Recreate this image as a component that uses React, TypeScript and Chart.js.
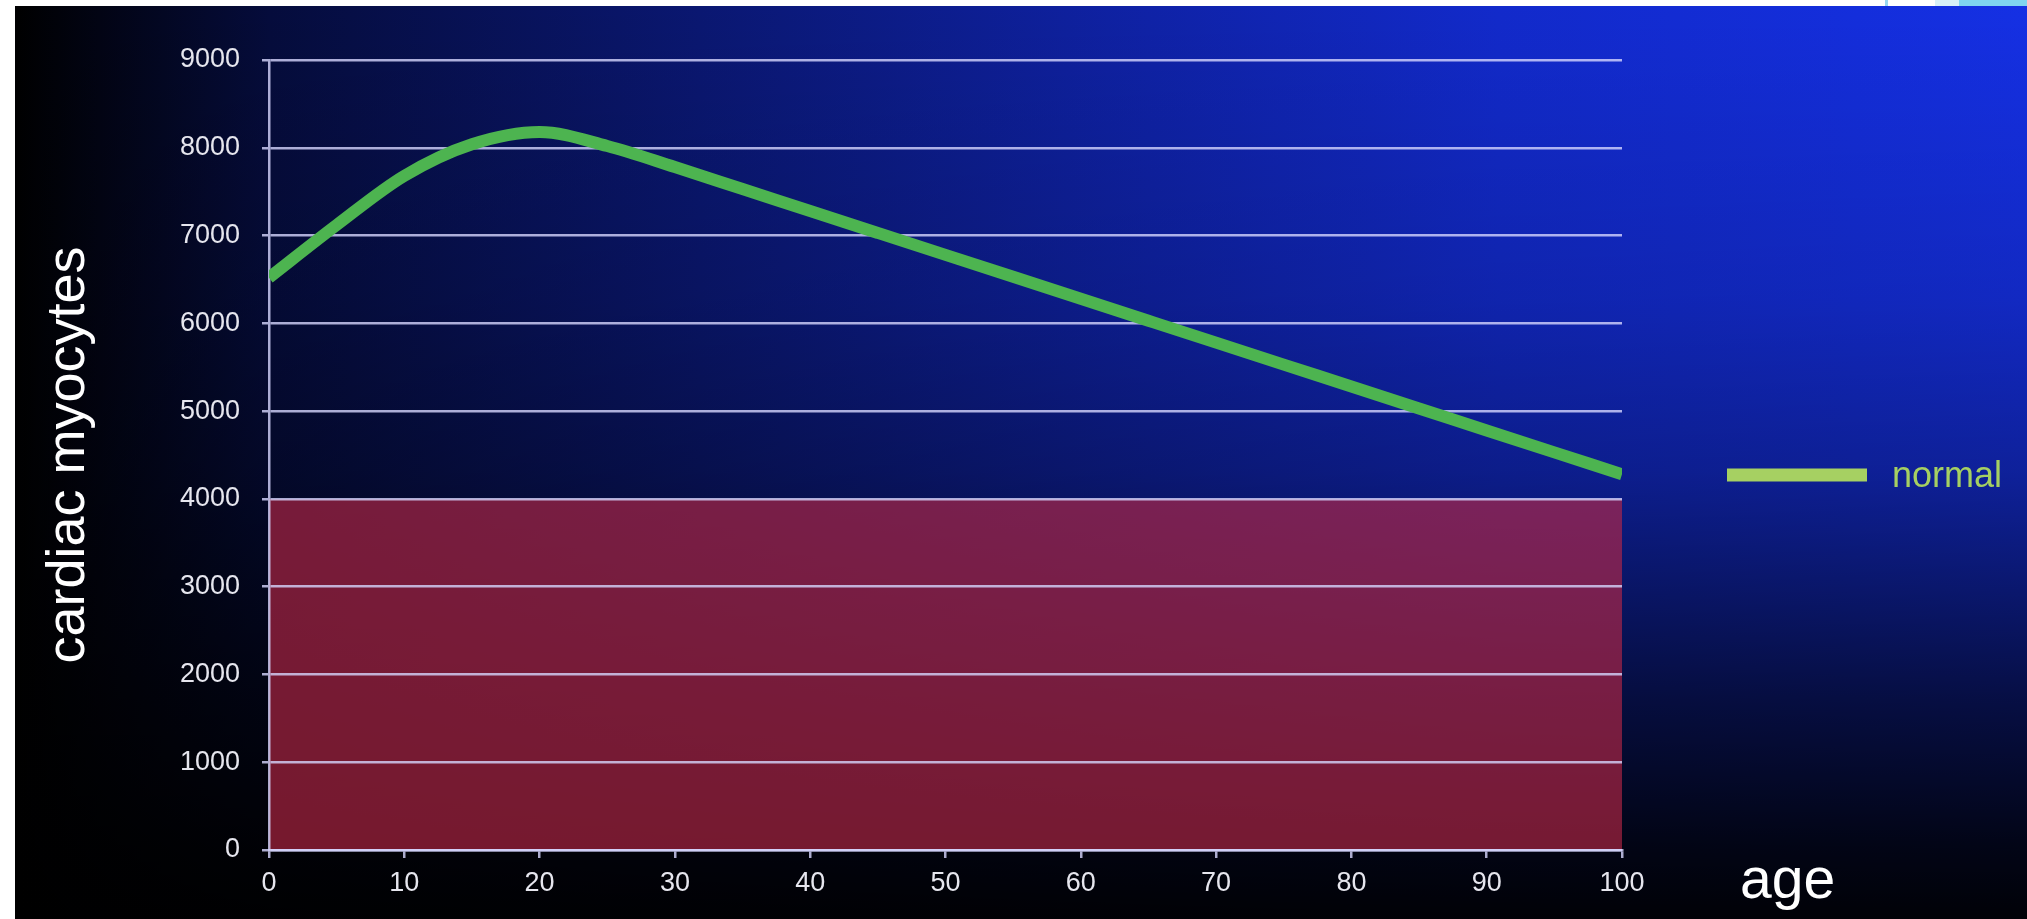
import React, { useEffect, useRef } from 'react';
import { Chart, registerables } from 'chart.js';

Chart.register(...registerables);

// Cardiac myocyte count by age (normal course), sampled every 5 years
const AGES = [0, 5, 10, 15, 20, 25, 30, 35, 40, 45, 50, 55, 60, 65, 70, 75, 80, 85, 90, 95, 100];
const NORMAL_MYOCYTES = [
  6520, 7120, 7680, 8040, 8180, 8020, 7780, 7530, 7280, 7030, 6780,
  6530, 6280, 6030, 5780, 5530, 5280, 5030, 4780, 4530, 4280,
];

// Critical zone: below this many myocytes
const CRITICAL_AGES = [0, 100];
const CRITICAL_LEVEL = [4000, 4000];

const X_TICKS = [0, 10, 20, 30, 40, 50, 60, 70, 80, 90, 100];
const Y_TICKS = [0, 1000, 2000, 3000, 4000, 5000, 6000, 7000, 8000, 9000];

const SERIES_LABEL = 'normal';
const X_TITLE = 'age';
const Y_TITLE = 'cardiac myocytes';

const FONT = '"Liberation Sans", Arial, Helvetica, sans-serif';
const LINE_GREEN = '#4db450';
const LEGEND_GREEN = '#a6d062';
const GRID = 'rgba(215,215,255,0.8)';
const TICK_TEXT = '#e6e6ee';

const CANVAS_W = 2012;
const CANVAS_H = 913;

// Draws the "age" caption to the right of the x axis and the series key
const sideLabels = {
  id: 'sideLabels',
  afterDraw(chart: any) {
    const { ctx, chartArea } = chart;
    const ds = chart.data.datasets[0];
    ctx.save();
    ctx.textAlign = 'left';
    ctx.textBaseline = 'alphabetic';
    ctx.fillStyle = '#ffffff';
    ctx.font = `57px ${FONT}`;
    ctx.fillText(X_TITLE, chartArea.right + 118, chartArea.bottom + 48);

    const keyY = chartArea.top + 415;
    ctx.fillStyle = LEGEND_GREEN;
    ctx.fillRect(chartArea.right + 105, keyY - 6.5, 140, 13);
    ctx.font = `36px ${FONT}`;
    ctx.fillText(ds.label, chartArea.right + 270, keyY + 12);
    ctx.restore();
  },
};

export default function App() {
  const canvasRef = useRef<HTMLCanvasElement | null>(null);

  useEffect(() => {
    if (!canvasRef.current) return;
    Chart.defaults.font.family = FONT;

    const chart = new Chart(canvasRef.current, {
      type: 'line',
      data: {
        datasets: [
          {
            label: SERIES_LABEL,
            data: AGES.map((a, i) => ({ x: a, y: NORMAL_MYOCYTES[i] })),
            borderColor: LINE_GREEN,
            borderWidth: 12,
            pointRadius: 0,
            fill: false,
            cubicInterpolationMode: 'monotone',
            clip: 0,
          },
          {
            label: 'critical',
            data: CRITICAL_AGES.map((a, i) => ({ x: a, y: CRITICAL_LEVEL[i] })),
            borderWidth: 0,
            borderColor: 'rgba(0,0,0,0)',
            backgroundColor: 'rgba(187,40,69,0.63)',
            pointRadius: 0,
            fill: 'origin',
            clip: 0,
          },
        ],
      },
      options: {
        responsive: false,
        animation: false,
        events: [],
        layout: { padding: { top: 54, right: 405, bottom: 0, left: 0 } },
        plugins: {
          legend: { display: false },
          tooltip: { enabled: false },
          filler: { drawTime: 'beforeDraw' },
        },
        scales: {
          x: {
            type: 'linear',
            min: 0,
            max: 100,
            afterBuildTicks: (s: any) => {
              s.ticks = X_TICKS.map((v) => ({ value: v }));
            },
            afterFit: (s: any) => {
              s.height = 69;
            },
            ticks: {
              color: TICK_TEXT,
              font: { size: 27 },
              padding: 9,
              maxRotation: 0,
              autoSkip: false,
              callback: (v: any) => String(v),
            },
            grid: {
              drawOnChartArea: false,
              drawTicks: true,
              tickLength: 8,
              color: GRID,
              lineWidth: 2.5,
            },
            border: { display: true, color: GRID, width: 2.5 },
          },
          y: {
            type: 'linear',
            min: 0,
            max: 9000,
            afterBuildTicks: (s: any) => {
              s.ticks = Y_TICKS.map((v) => ({ value: v }));
            },
            afterFit: (s: any) => {
              s.width = 254;
            },
            ticks: {
              color: TICK_TEXT,
              font: { size: 27 },
              padding: 22,
              autoSkip: false,
              callback: (v: any) => String(v),
            },
            grid: {
              drawOnChartArea: true,
              drawTicks: true,
              tickLength: 7,
              color: GRID,
              lineWidth: 2.5,
            },
            border: { display: true, color: GRID, width: 2.5 },
            title: {
              display: true,
              text: Y_TITLE,
              color: '#ffffff',
              font: { size: 54 },
              padding: { top: 22, bottom: 0 },
            },
          },
        },
      },
      plugins: [sideLabels],
    } as any);

    return () => chart.destroy();
  }, []);

  return (
    <div
      style={{
        position: 'absolute',
        left: 0,
        top: 0,
        width: 2027,
        height: 919,
        background: '#ffffff',
        overflow: 'hidden',
      }}
    >
      <div style={{ position: 'absolute', left: 1885, top: 0, width: 3, height: 6, background: '#9ad8f0' }} />
      <div style={{ position: 'absolute', left: 1935, top: 0, width: 24, height: 6, background: '#d8f0f8' }} />
      <div style={{ position: 'absolute', left: 1959, top: 0, width: 68, height: 6, background: '#80d4f0' }} />
      <div
        style={{
          position: 'absolute',
          left: 15,
          top: 6,
          width: CANVAS_W,
          height: CANVAS_H,
          background:
            'linear-gradient(to bottom, rgba(0,0,0,0) 0%, rgba(0,0,0,0.15) 32%, rgba(0,0,0,0.32) 51%, rgba(0,0,0,0.7) 76%, rgba(0,0,0,0.9) 92%, rgba(0,0,0,0.97) 100%),' +
            'linear-gradient(to right, #000000 0%, rgb(2,4,20) 4.2%, rgb(5,12,60) 12.7%, rgb(10,23,113) 34%, rgb(15,34,167) 56.4%, rgb(18,42,203) 73.8%, rgb(21,48,228) 100%)',
        }}
      >
        <canvas ref={canvasRef} width={CANVAS_W} height={CANVAS_H} style={{ display: 'block' }} />
      </div>
    </div>
  );
}
